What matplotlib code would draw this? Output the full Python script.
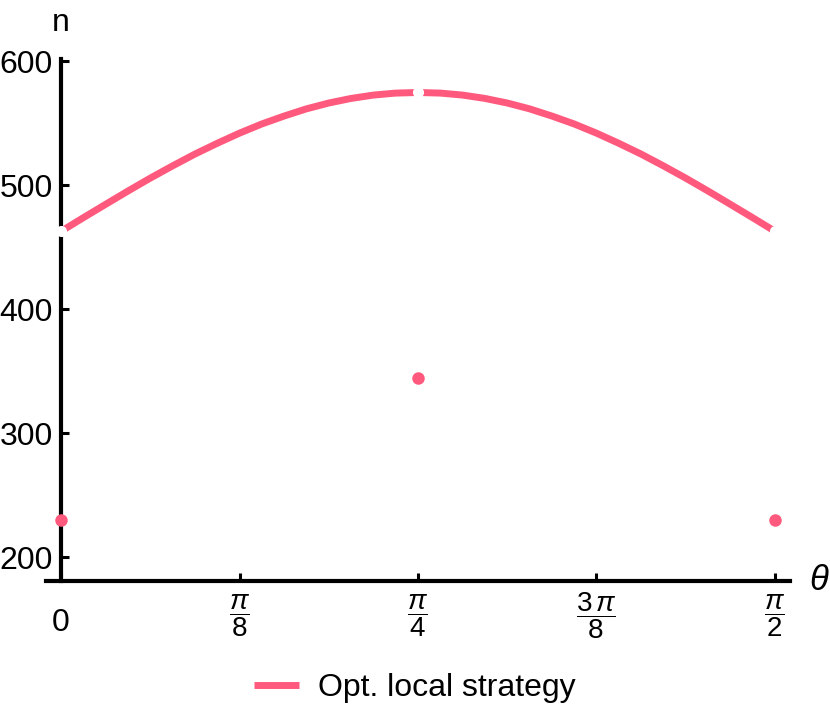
import numpy as np
import matplotlib
matplotlib.use('Agg')
from matplotlib import pyplot as plt

theta_curve = np.arange(33) * np.pi / 64
n_curve = [463.0, 474.0, 484.8, 495.5, 505.9, 515.8, 525.3, 534.0, 542.2, 549.6, 556.0, 561.8,
           566.5, 570.2, 572.9, 574.5, 575.0, 574.5, 572.9, 570.2, 566.5, 561.8, 556.0, 549.6,
           542.2, 534.0, 525.3, 515.8, 505.9, 495.5, 484.8, 474.0, 463.0]

# excluded points on the curve (holes) and the isolated values there
theta_pts = [0, np.pi / 4, np.pi / 2]
n_holes = [463, 575, 463]
n_pts = [230, 345, 230]

xticks = [0, np.pi / 8, np.pi / 4, 3 * np.pi / 8, np.pi / 2]
xticklabels = ['', r'$\dfrac{\pi}{8}$', r'$\dfrac{\pi}{4}$', r'$\dfrac{3\,\pi}{8}$', r'$\dfrac{\pi}{2}$']
yticks = [200, 300, 400, 500, 600]

color = '#FF5A7D'

plt.rcParams['font.family'] = ['Liberation Sans', 'DejaVu Sans']
plt.rcParams['mathtext.fontset'] = 'custom'
plt.rcParams['mathtext.rm'] = 'Liberation Sans'
plt.rcParams['mathtext.it'] = 'Liberation Sans:italic'

W, H = 830, 725
fig = plt.figure(figsize=(W / 100, H / 100), dpi=100)
ax = fig.add_axes([46 / W, 1 - 581 / H, (790 - 46) / W, (581 - 59) / H])

ax.plot(theta_curve, n_curve, color=color, lw=5, solid_capstyle='butt', zorder=3,
        label='Opt. local strategy')
ax.plot(theta_pts, n_holes, 'o', color='white', ms=8, mew=0, zorder=6, clip_on=False)
ax.plot(theta_pts, n_pts, 'o', color=color, ms=9, mew=0, zorder=6, clip_on=False)

ax.set_xlim(-0.033, np.pi / 2 + 0.033)
ax.set_ylim(181, 602)

for s in ['top', 'right']:
    ax.spines[s].set_visible(False)
ax.spines['left'].set_position(('data', 0))
for s in ['left', 'bottom']:
    ax.spines[s].set_linewidth(3)

ax.set_xticks(xticks)
ax.set_xticklabels(xticklabels, va='center')
ax.set_yticks(yticks)
ax.tick_params(axis='both', direction='in', length=6, width=2.2)
ax.tick_params(axis='y', pad=6, labelsize=23)
ax.tick_params(axis='x', pad=25, labelsize=20)

# the "0" label is set in the larger font
ax.text(0, -0.08, '0', transform=ax.get_xaxis_transform(), ha='center', va='center', fontsize=23)

ax.text(0, 1.04, 'n', transform=ax.get_xaxis_transform(), ha='center', va='bottom', fontsize=23)
ax.text(1.025, 0, r'$\theta$', transform=ax.transAxes, ha='left', va='center', fontsize=25)

fig.legend(loc='center', bbox_to_anchor=(0.5, 1 - 688 / H), frameon=False, fontsize=23,
           handlelength=1.4, handletextpad=0.6)

plt.savefig('out.png', dpi=100)
